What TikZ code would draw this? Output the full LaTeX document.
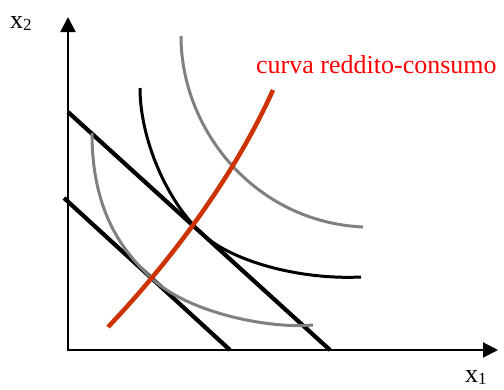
\documentclass[tikz,border=0pt]{standalone}
\usepackage{fontspec}
\setmainfont{Liberation Serif}
\usetikzlibrary{arrows.meta}
\definecolor{redcurve}{RGB}{204,51,0}
\definecolor{icgray}{RGB}{128,128,128}
\definecolor{labelred}{RGB}{255,0,0}
\newcommand{\subdigit}[1]{\raisebox{-2pt}{\fontsize{17}{19}\selectfont #1}}
\begin{document}
\begin{tikzpicture}[x=1pt,y=-1pt,
  axis/.style={line width=2pt,{Triangle[length=15pt,width=15pt]}-{Triangle[length=15pt,width=15pt]}},
  budget/.style={line width=4.2pt,black},
  icblack/.style={line width=3pt,black},
  icgrey/.style={line width=3pt,icgray},
  icc/.style={line width=4.5pt,redcurve},
  lbl/.style={inner sep=0pt,anchor=base west,font=\fontsize{26}{30}\selectfont}]
\useasboundingbox (0,0) rectangle (504,389);
% axes
\coordinate (O) at (68,350);
\coordinate (Ytip) at (68,17);
\coordinate (Xtip) at (498,350);
\draw[axis] (Ytip) -- (O) -- (Xtip);
\node[lbl] (x2) at (10,28) {x\subdigit{2}};
\node[lbl] (x1) at (465,382) {x\subdigit{1}};
% budget lines
\coordinate (A1) at (68,112);
\coordinate (B1) at (330,350);
\coordinate (A2) at (64,198);
\coordinate (B2) at (230,350);
\draw[budget] (A1) -- (B1);
\draw[budget] (A2) -- (B2);
% indifference curves
\coordinate (S1) at (92,133);
\coordinate (T2) at (153,279.5);
\coordinate (E1) at (313,325);
\draw[icgrey] (S1) .. controls (92,213) and (123.5,252.5) .. (T2)
  .. controls (189.9,313.3) and (270,329) .. (E1);
\coordinate (S2) at (140,88);
\coordinate (T1) at (203,234.6);
\coordinate (E2) at (361,277);
\draw[icblack] (S2) .. controls (140,138) and (166,201) .. (T1)
  .. controls (232.6,261.5) and (300,280) .. (E2);
\coordinate (S3) at (181,36);
\coordinate (E3) at (363,227);
\draw[icgrey] (S3) .. controls (181,130) and (255,222) .. (E3);
% income-consumption curve
\coordinate (R0) at (108,327);
\coordinate (R1) at (273,90);
\draw[icc] (R0) .. controls (170,262) and (235,175) .. (R1);
\node[lbl,text=labelred] (icclabel) at (256,73) {curva reddito-consumo};
\end{tikzpicture}
\end{document}
